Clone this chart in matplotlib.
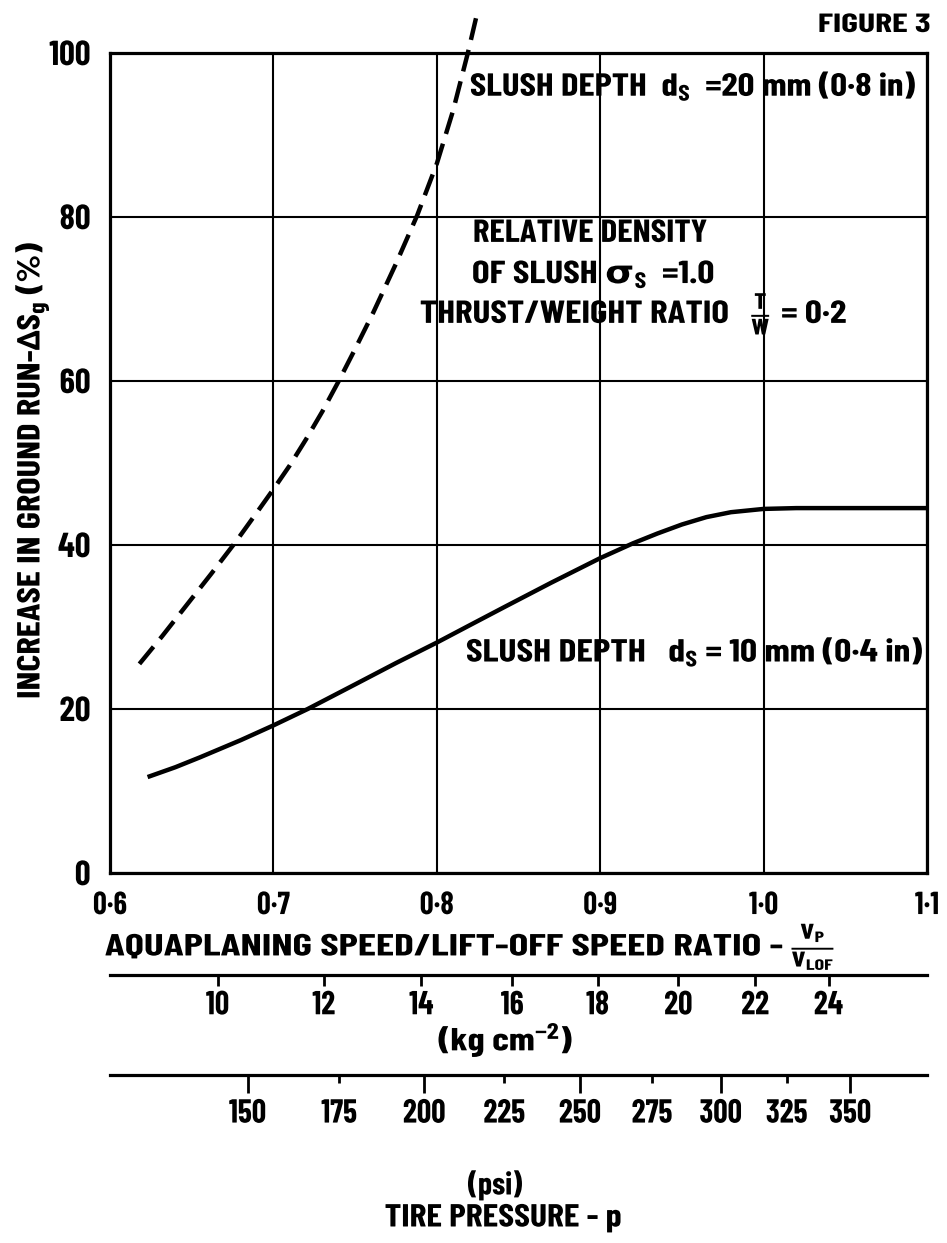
import numpy as np
import matplotlib
matplotlib.use("Agg")
import matplotlib.pyplot as plt
from matplotlib import font_manager
from matplotlib.patheffects import AbstractPathEffect
from matplotlib.transforms import Affine2D

# data
ratio_10mm = [0.623, 0.640, 0.655, 0.680, 0.700, 0.721, 0.750, 0.775, 0.800, 0.820, 0.842,
              0.870, 0.900, 0.920, 0.935, 0.950, 0.965, 0.980, 1.000, 1.020, 1.050, 1.100]
run_10mm = [11.7, 12.9, 14.1, 16.2, 18.0, 20.0, 23.0, 25.6, 28.1, 30.2, 32.5,
            35.4, 38.4, 40.2, 41.4, 42.5, 43.4, 44.0, 44.4, 44.5, 44.5, 44.5]
ratio_20mm = [0.618, 0.632, 0.647, 0.662, 0.677, 0.690, 0.700, 0.710, 0.720, 0.730,
              0.740, 0.750, 0.761, 0.775, 0.788, 0.800, 0.810, 0.819, 0.825]
run_20mm = [25.5, 28.9, 32.7, 36.5, 40.4, 44.0, 46.8, 49.7, 52.9, 56.3,
            60.0, 63.9, 68.3, 74.3, 80.2, 86.5, 93.0, 100.0, 105.1]

ratio_ticks = [0.6, 0.7, 0.8, 0.9, 1.0, 1.1]
run_ticks = [0, 20, 40, 60, 80, 100]
kg_ticks = [10, 12, 14, 16, 18, 20, 22, 24]
psi_major = [150, 200, 250, 300, 350]
psi_minor = [175, 225, 275, 325]

# ratio scale vs tyre pressure (kg/cm2), ratio ~ A*sqrt(p)+B
A = 0.2153
B = -0.015
PSI_PER_KG = 14.223

names = {f.name for f in font_manager.fontManager.ttflist}
font = next((n for n in ["Barlow Condensed", "Roboto Condensed", "Archivo Narrow", "Asap Condensed"]
             if n in names), None)
if font:
    plt.rcParams["font.family"] = [font, "DejaVu Sans"]
    TICK_SX = 0.95
else:
    plt.rcParams["font.family"] = ["DejaVu Sans"]
    TICK_SX = 0.58
plt.rcParams["font.weight"] = "bold"
plt.rcParams["mathtext.default"] = "regular"


class Squeeze(AbstractPathEffect):
    # narrows the lettering like the stencil font of the original
    def __init__(self, sx=None, width=None, align="left"):
        super().__init__()
        self.sx = sx
        self.width = width
        self.align = align

    def draw_path(self, renderer, gc, tpath, affine, rgbFace=None):
        ext = tpath.get_extents()
        sx = self.sx
        if self.width is not None:
            p = affine.transform([[ext.x0, 0], [ext.x1, 0]])
            sx = self.width / np.hypot(*(p[1] - p[0]))
        x_ref = {"left": ext.x0, "center": (ext.x0 + ext.x1) / 2, "right": ext.x1}[self.align]
        sq = Affine2D().translate(-x_ref, 0).scale(sx, 1).translate(x_ref, 0)
        renderer.draw_path(gc, tpath, sq + affine, rgbFace)


def dot(v):
    return "{:.1f}".format(v).replace(".", "\u00b7")


def r_to_kg(r):
    r = np.asarray(r, float)
    return (np.clip(r - B, 0, None) / A) ** 2


def kg_to_r(p):
    p = np.asarray(p, float)
    return A * np.sqrt(np.clip(p, 0, None)) + B


def r_to_psi(r):
    return r_to_kg(r) * PSI_PER_KG


def psi_to_r(p):
    return kg_to_r(np.asarray(p, float) / PSI_PER_KG)


W, H = 947, 1243
fig = plt.figure(figsize=(W / 100, H / 100), dpi=100)
ax = fig.add_axes([110 / W, 1 - 873 / H, 817 / W, 820 / H])
ax.set_xlim(0.6, 1.1)
ax.set_ylim(0, 100)
ax.set_xticks(ratio_ticks)
ax.set_xticklabels([dot(v) for v in ratio_ticks])
ax.set_yticks(run_ticks)
ax.grid(True, color="black", lw=1.5)
ax.set_axisbelow(True)
ax.tick_params(axis="x", length=0, labelsize=23, pad=13)
ax.tick_params(axis="y", length=0, labelsize=25, pad=14)
for s in ax.spines.values():
    s.set_linewidth(2.3)
for t in ax.get_xticklabels():
    t.set_path_effects([Squeeze(TICK_SX, align="center")])
for t in ax.get_yticklabels():
    t.set_path_effects([Squeeze(TICK_SX * 1.05, align="right")])

ax.plot(ratio_10mm, run_10mm, color="black", lw=3.2, solid_capstyle="butt")
ax.plot(ratio_20mm, run_20mm, color="black", lw=3.2, dashes=(5, 2.3),
        clip_on=False, dash_capstyle="butt")

# secondary pressure scales
sec_kg = ax.secondary_xaxis(-0.1244, functions=(r_to_kg, kg_to_r))
sec_kg.set_xticks(kg_ticks)
sec_kg.set_xticklabels([str(v) for v in kg_ticks])
sec_kg.tick_params(direction="out", length=8, width=2, labelsize=24, pad=3)
sec_kg.spines["bottom"].set_linewidth(2.3)
for t in sec_kg.get_xticklabels():
    t.set_path_effects([Squeeze(TICK_SX, align="center")])

sec_psi = ax.secondary_xaxis(-0.2463, functions=(r_to_psi, psi_to_r))
sec_psi.set_xticks(psi_major)
sec_psi.set_xticklabels([str(v) for v in psi_major])
sec_psi.set_xticks(psi_minor, minor=True)
sec_psi.set_xticklabels([str(v) for v in psi_minor], minor=True)
sec_psi.tick_params(which="major", direction="out", length=13, width=2, labelsize=24, pad=4)
sec_psi.tick_params(which="minor", direction="out", length=6, width=2, labelsize=24, pad=11)
sec_psi.spines["bottom"].set_linewidth(2.3)
for t in sec_psi.get_xticklabels() + sec_psi.get_xticklabels(minor=True):
    t.set_path_effects([Squeeze(TICK_SX, align="center")])

# labels: (x px, y px, text, size, ha, width px)
fig_texts = [
    (930, 25, "FIGURE 3", 19, "right", 110),
    (105, 947, r"AQUAPLANING SPEED/LIFT-OFF SPEED RATIO - $\frac{V_P}{V_{LOF}}$", 22, "left", 728),
    (506, 1040, r"(kg cm$^{-2}$)", 23, "center", 133),
    (495, 1185, "(psi)", 23, "center", 54),
    (503, 1218, "TIRE PRESSURE - p", 23, "center", 235),
]
for x, y, s, size, ha, w in fig_texts:
    fig.text(x / W, 1 - y / H, s, ha=ha, va="center", fontsize=size,
             path_effects=[Squeeze(width=w, align=ha)])

fig.text(32 / W, 1 - 470 / H, r"INCREASE IN GROUND RUN-Δ$S_g$ (%)", rotation=90,
         ha="center", va="center", fontsize=23,
         path_effects=[Squeeze(width=454, align="center")])

ax_texts = [
    (0.8203, 96.0, r"SLUSH DEPTH  $d_S$  =20 mm (0·8 in)", 444),
    (0.8222, 78.0, "RELATIVE DENSITY", 232),
    (0.8216, 73.0, r"OF SLUSH $\mathbf{σ}_S$  =1.0", 240),
    (0.7897, 68.3, r"THRUST/WEIGHT RATIO   $\frac{T}{W}$ = 0·2", 425),
    (0.8179, 27.0, r"SLUSH DEPTH   $d_S$ = 10 mm (0·4 in)", 455),
]
for x, y, s, w in ax_texts:
    ax.text(x, y, s, ha="left", va="center", fontsize=23,
            path_effects=[Squeeze(width=w, align="left")])

fig.savefig("out.png", dpi=100)
